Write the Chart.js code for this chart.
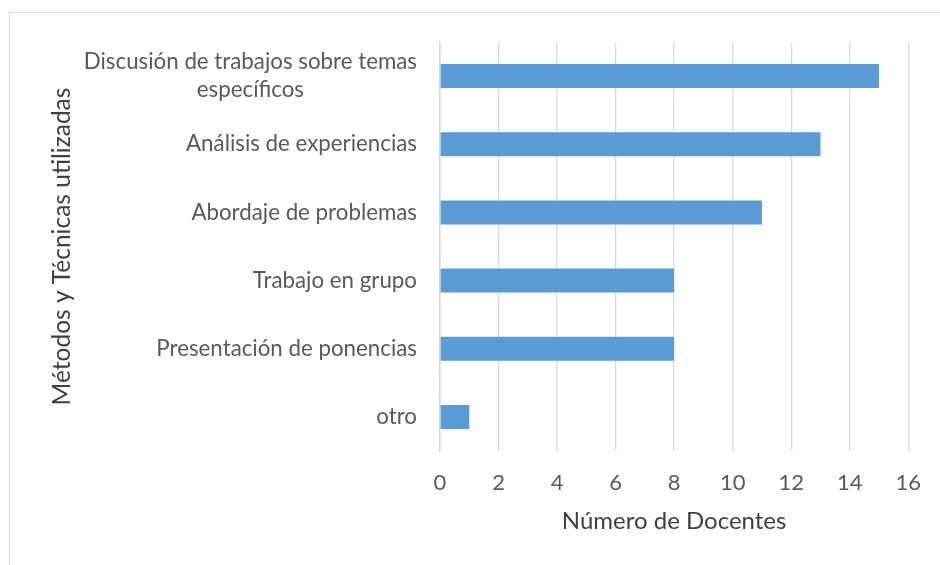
<!DOCTYPE html>
<html>
<head>
<meta charset="utf-8">
<script src="https://cdn.jsdelivr.net/npm/chart.js@4"></script>
<style>
  html, body { margin: 0; padding: 0; background: #fff; overflow: hidden; }
  #wrap { position: relative; width: 940px; height: 565px; }
  #frame { position: absolute; left: 9px; top: 12px; width: 960px; height: 600px; border: 1px solid #d9d9d9; }
  canvas { position: absolute; left: 0; top: 0; }
</style>
</head>
<body>
<div id="wrap">
  <div id="frame"></div>
  <canvas id="chart" width="940" height="565"></canvas>
</div>
<script>
const categories = [
  ['Discusión de trabajos sobre temas', 'específicos'],
  'Análisis de experiencias',
  'Abordaje de problemas',
  'Trabajo en grupo',
  'Presentación de ponencias',
  'otro'
];
const docentes = [15, 13, 11, 8, 8, 1];
const xTicks = [0, 2, 4, 6, 8, 10, 12, 14, 16];

const FONT = 'Lato, "Open Sans", sans-serif';
const TICK_SIZE = 22.3;

// draws the category labels so wrapped lines are centred on each other
const yLabels = {
  id: 'yLabels',
  afterDraw(chart) {
    const scale = chart.scales.y;
    const ctx = chart.ctx;
    ctx.save();
    ctx.font = TICK_SIZE + 'px ' + FONT;
    ctx.fillStyle = '#595959';
    ctx.textAlign = 'center';
    ctx.textBaseline = 'middle';
    const lh = 28;
    const right = scale.right - 23;
    categories.forEach((label, i) => {
      const lines = Array.isArray(label) ? label : [label];
      const w = Math.max(...lines.map(l => ctx.measureText(l).width));
      const cy = scale.getPixelForTick(i);
      lines.forEach((line, j) => {
        ctx.fillText(line, right - w / 2, cy + (j - (lines.length - 1) / 2) * lh);
      });
    });
    ctx.restore();
  }
};

const ctx = document.getElementById('chart').getContext('2d');
new Chart(ctx, {
  type: 'bar',
  data: {
    labels: categories,
    datasets: [{
      label: 'Número de Docentes',
      data: docentes,
      backgroundColor: '#5b9bd5',
      categoryPercentage: 1,
      barPercentage: 0.352
    }]
  },
  options: {
    indexAxis: 'y',
    responsive: false,
    animation: false,
    layout: { padding: { top: 42, right: 30, bottom: 0, left: 20 } },
    plugins: { legend: { display: false }, tooltip: { enabled: false } },
    scales: {
      x: {
        min: 0,
        max: 16,
        afterBuildTicks: s => { s.ticks = xTicks.map(v => ({ value: v })); },
        afterFit: s => { s.height = 114; },
        grid: { color: '#d9d9d9', lineWidth: 1.3, drawTicks: false },
        border: { display: false },
        ticks: { padding: 19, color: '#595959', font: { family: FONT, size: 22 } },
        title: {
          display: true,
          text: 'Número de Docentes',
          color: '#404040',
          font: { family: FONT, size: 24 },
          padding: { top: 0, bottom: 29 }
        }
      },
      y: {
        afterFit: s => { s.width = 420; },
        grid: { display: false },
        border: { color: '#d9d9d9', width: 1.5 },
        ticks: { color: 'rgba(0,0,0,0)', font: { family: FONT, size: TICK_SIZE }, padding: 23 },
        title: {
          display: true,
          text: 'Métodos y Técnicas utilizadas',
          color: '#404040',
          font: { family: FONT, size: 24.5 },
          padding: { top: 27, bottom: 0 }
        }
      }
    }
  },
  plugins: [yLabels]
});
</script>
</body>
</html>
